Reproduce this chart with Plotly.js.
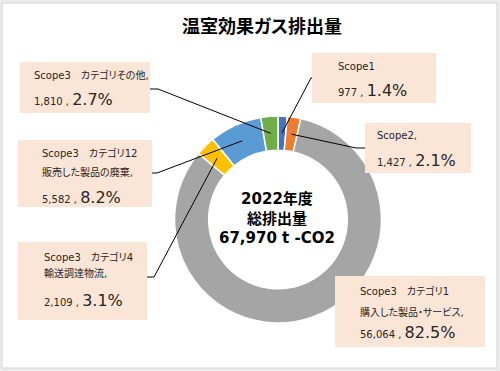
<!DOCTYPE html>
<html>
<head>
<meta charset="utf-8">
<script src="https://cdn.plot.ly/plotly-3.0.1.min.js"></script>
<style>
html,body{margin:0;padding:0;background:#fff;}
text{font-feature-settings:"palt";}
</style>
</head>
<body>
<div id="chart" style="width:500px;height:371px;"></div>
<script>
// ---- data ----
const categories = ['Scope1', 'Scope2', 'Scope3 カテゴリ1', 'Scope3 カテゴリ4', 'Scope3 カテゴリ12', 'Scope3 カテゴリその他'];
const values = [977, 1427, 56064, 2109, 5582, 1810];
const sliceColors = ['#4472C4', '#ED7D31', '#A5A5A5', '#FFC000', '#5B9BD5', '#70AD47'];
const labelLine1 = ['Scope1', 'Scope2,', 'Scope3　カテゴリ1', 'Scope3　カテゴリ4', 'Scope3　カテゴリ12', 'Scope3　カテゴリその他,'];
const labelLine2 = ['', '', '購入した製品・サービス,', '輸送調達物流,', '販売した製品の廃棄,', ''];
const centerLines = ['2022年度', '総排出量', '67,970 t -CO2'];
const chartTitle = '温室効果ガス排出量';

// ---- layout (pixels) ----
const W = 500, H = 371;
const cx = 278, cy = 219.5, R = 103.5, HOLE = 0.67;
const px = x => x / W;
const py = y => 1 - y / H;
const FONT = 'DejaVu Sans, Noto Sans CJK JP, sans-serif';
const TXT = '#262626';

// label boxes: box rect, text x, row y's, leader start & elbow
const boxes = [
  {b: [312, 53, 436, 103], tx: 336, rows: [66, 90], lead: [[312, 78], [311, 78]]},
  {b: [365, 123, 471, 173], tx: 375, rows: [136, 160], lead: [[365, 148], [356, 148]]},
  {b: [335, 276, 485, 347], tx: 358, rows: [291, 312, 332], lead: null},
  {b: [18, 242, 147, 320], tx: 42, rows: [257, 273, 300], lead: [[147, 277], [154, 277]]},
  {b: [18, 140, 152, 207], tx: 40, rows: [153, 172, 197], lead: [[152, 173], [157, 173]]},
  {b: [20, 62, 150, 113], tx: 32, rows: [75, 99], lead: [[150, 89], [158, 89]]}
];

const total = values.reduce((a, b) => a + b, 0);
const shapes = [];
const annotations = [];

// white panel
shapes.push({type: 'rect', layer: 'below', xref: 'paper', yref: 'paper',
  x0: px(2), x1: px(497), y0: py(3), y1: py(368), fillcolor: '#ffffff',
  line: {color: '#d4d4d4', width: 1}});

let cum = 0;
values.forEach((v, i) => {
  const mid = (cum + v / 2) / total;
  cum += v;
  const th = 2 * Math.PI * mid;
  const rm = R * (1 + HOLE) / 2;
  const ex = cx + rm * Math.sin(th), ey = cy - rm * Math.cos(th);
  const bx = boxes[i];
  shapes.push({type: 'rect', layer: 'above', xref: 'paper', yref: 'paper',
    x0: px(bx.b[0]), x1: px(bx.b[2]), y0: py(bx.b[1]), y1: py(bx.b[3]),
    fillcolor: '#FBE5D6', line: {width: 0}});
  if (bx.lead) {
    const p = `M ${px(bx.lead[0][0])} ${py(bx.lead[0][1])} L ${px(bx.lead[1][0])} ${py(bx.lead[1][1])} L ${px(ex)} ${py(ey)}`;
    shapes.push({type: 'path', layer: 'above', xref: 'paper', yref: 'paper', path: p,
      line: {color: '#000000', width: 1}});
  }
  const pct = (v / total * 100).toFixed(1) + '%';
  const numTxt = '<span style="font-size:10px">' + v.toLocaleString('en-US') + ' , </span>' + pct;
  const lines = [labelLine1[i]];
  if (labelLine2[i]) lines.push(labelLine2[i]);
  lines.forEach((t, k) => {
    annotations.push({xref: 'paper', yref: 'paper', x: px(bx.tx), y: py(bx.rows[k]),
      xanchor: 'left', yanchor: 'middle', showarrow: false, text: t,
      font: {family: FONT, size: 10, color: TXT}});
  });
  annotations.push({xref: 'paper', yref: 'paper', x: px(bx.tx), y: py(bx.rows[lines.length]),
    xanchor: 'left', yanchor: 'middle', showarrow: false, text: numTxt,
    font: {family: FONT, size: 16, color: TXT}});
});

// center text (one block)
annotations.push({xref: 'paper', yref: 'paper', x: px(277), y: py(218),
  xanchor: 'center', yanchor: 'middle', showarrow: false, align: 'center',
  text: centerLines.map(s => '<b>' + s + '</b>').join('<br>'),
  font: {family: FONT, size: 15, color: '#000000'}});

const trace = {
  type: 'pie',
  labels: categories,
  values: values,
  sort: false,
  direction: 'clockwise',
  rotation: 0,
  hole: HOLE,
  textinfo: 'none',
  hoverinfo: 'none',
  showlegend: false,
  marker: {colors: sliceColors, line: {color: '#ffffff', width: 1.5}},
  domain: {x: [px(cx - R), px(cx + R)], y: [py(cy + R), py(cy - R)]}
};

const layout = {
  width: W, height: H,
  margin: {l: 0, r: 0, t: 0, b: 0},
  paper_bgcolor: '#ebebeb',
  plot_bgcolor: 'rgba(0,0,0,0)',
  title: {text: '<b>' + chartTitle + '</b>', x: px(262), xanchor: 'center', y: py(27), yanchor: 'middle',
    font: {family: 'Noto Sans CJK JP, sans-serif', size: 18, color: '#000000'}},
  shapes: shapes,
  annotations: annotations
};

Plotly.newPlot('chart', [trace], layout, {displayModeBar: false, staticPlot: true});
</script>
</body>
</html>
